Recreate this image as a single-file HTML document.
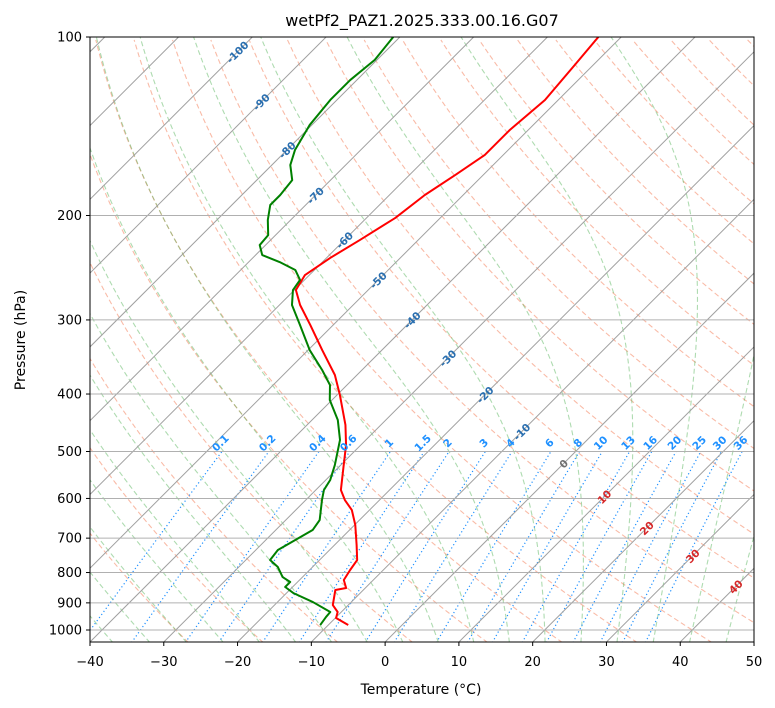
<!DOCTYPE html>
<html><head><meta charset="utf-8"><style>
html,body{margin:0;padding:0;background:#fff;}
svg{display:block;font-family:"DejaVu Sans","Liberation Sans",sans-serif;}
</style></head><body>
<svg id="chart" width="775" height="708" viewBox="0 0 775 708" xmlns="http://www.w3.org/2000/svg">
<defs><clipPath id="plotclip"><rect x="90" y="37" width="664" height="605"/></clipPath></defs>
<rect x="0" y="0" width="775" height="708" fill="#fff"/>
<text x="422" y="26" text-anchor="middle" font-size="16">wetPf2_PAZ1.2025.333.00.16.G07</text>
<g id="bg" clip-path="url(#plotclip)"></g>
<g id="series" clip-path="url(#plotclip)"></g>
<g id="labels"></g>
<rect x="90" y="37" width="664" height="605" fill="none" stroke="#000" stroke-width="1"/>
<g id="axes"></g>
<text x="421" y="694" text-anchor="middle" font-size="14">Temperature (°C)</text>
<text transform="translate(25,340) rotate(-90)" text-anchor="middle" font-size="14">Pressure (hPa)</text>
</svg>
<script>
const tempPressure = [100,111.5,127.7,143.5,158.1,170.9,184.7,201.9,219.9,235.8,252,267.1,283.1,306,337.2,371.5,401.6,451,487.5,537.3,580.6,603.7,627.6,665.2,719.1,762.1,792.2,823.6,849.6,856,907.6,932.5,954.5,980.9];
const tempValues = [-53.1,-52.5,-51.8,-52.5,-52.5,-53.8,-55.2,-56.1,-57.9,-59.5,-60.6,-59.8,-57.2,-53.1,-48.1,-43.0,-39.6,-34.8,-32,-29,-26.6,-24.7,-22.4,-19.9,-17,-14.9,-14.5,-14,-12.6,-13.8,-12.1,-10.5,-9.9,-7.3];
const dewPressure = [100,109.3,118.2,127.7,140.7,155.1,164.4,174.3,184.7,192,203.5,215.8,224.3,233.2,239.6,247.1,256.9,267.1,283.1,306,337.2,364.4,386.3,409.4,442.5,478.1,527,558.5,580.6,603.7,652.5,678.3,705.1,733.1,762.1,783.1,814.1,829.9,846.2,866.1,897.2,932.5,950.6,980.9];
const dewValues = [-80.9,-80.3,-80.9,-80.9,-80.3,-78.9,-77.5,-75.2,-74.8,-74.8,-73.1,-71.0,-70.8,-69.1,-65.8,-62.6,-60.6,-60.2,-58.3,-54.5,-49.8,-45.4,-42.3,-40.3,-36.5,-33.5,-30.8,-29.4,-28.9,-27.8,-25.4,-25.0,-26.0,-27.0,-26.7,-24.7,-22.7,-21.0,-21.0,-19.1,-15.2,-11.5,-11.4,-11.1];
const pressureTicks = [100,200,300,400,500,600,700,800,900,1000];
const tempTicks = [-40,-30,-20,-10,0,10,20,30,40,50];
const mixingRatios = [0.1,0.2,0.4,0.6,1,1.5,2,3,4,6,8,10,13,16,20,25,30,36];
const isothermLabels = [-100,-90,-80,-70,-60,-50,-40,-30,-20,-10,0,10,20,30,40];
const isothermLabelPressures = [106,128.7,155,185,220,257,300,348,401,463,524,596,673,750,845];

const NS="http://www.w3.org/2000/svg";
const PB=1050, PT=100;
function Y(p){return 37+593*Math.log10(p/100);}
function X(T,p){return 90+(T+40)*7.378+(642-Y(p));}
function el(tag,attrs,parent){const e=document.createElementNS(NS,tag);for(const k in attrs)e.setAttribute(k,attrs[k]);parent.appendChild(e);return e;}
const bg=document.getElementById('bg'), series=document.getElementById('series'), labels=document.getElementById('labels'), axes=document.getElementById('axes');
function pathFrom(pts){return pts.map((q,i)=>(i?'L':'M')+q[0].toFixed(2)+','+q[1].toFixed(2)).join('');}
const pgrid=[];for(let lp=Math.log(PB);lp>=Math.log(PT)-0.001;lp-=0.02)pgrid.push(Math.exp(lp));

for(let th=-30;th<=200;th+=10){
  const pts=pgrid.map(p=>[X((th+273.15)*Math.pow(p/1000,0.2857)-273.15,p),Y(p)]);
  const e=el('path',{d:pathFrom(pts),fill:'none',stroke:'#f4845f','stroke-opacity':'0.55','stroke-width':'1.1','stroke-dasharray':'5,3'},bg);
  
  
}
function esat(T){return 6.112*Math.exp(17.67*T/(T+243.5));}
function moistLapse(T,p){const Tk=T+273.15;const rs=0.622*esat(T)/(p-esat(T));const Rd=287,Lv=2.501e6,Cp=1005,eps=0.622;
  return (Rd*Tk+Lv*rs)/(p*(Cp+Lv*Lv*rs*eps/(Rd*Tk*Tk)));}
for(let t0=-40;t0<=45;t0+=5){
  const up=[];let T=t0,p=1000;up.push([T,p]);
  while(p>PT){const dp=-2;T+=moistLapse(T,p)*dp;p+=dp;up.push([T,p]);}
  const dn=[];T=t0;p=1000;while(p<PB){const dp=2;T+=moistLapse(T,p)*dp;p+=dp;dn.unshift([T,p]);}
  const pts=dn.concat(up).map(a=>[X(a[0],a[1]),Y(a[1])]);
  const e=el('path',{d:pathFrom(pts),fill:'none',stroke:'#4caf50','stroke-opacity':'0.45','stroke-width':'1.1','stroke-dasharray':'5,3'},bg);
  
  
}
mixingRatios.forEach(w=>{
  const pts=[];for(let p=PB;p>=500;p-=5){const e=w*p/(622+w);const l=Math.log(e/6.112);const Td=243.5*l/(17.67-l);pts.push([X(Td,p),Y(p)]);}
  const e=el('path',{d:pathFrom(pts),fill:'none',stroke:'#1e90ff','stroke-width':'1.2','stroke-dasharray':'1.2,2.6'},bg);
  
  
  const ee=w*500/(622+w);const l=Math.log(ee/6.112);const Td=243.5*l/(17.67-l);
  const lx=X(Td,500)+1, ly=Y(500)-6;
  const t=el('text',{x:lx,y:ly,'text-anchor':'middle','font-size':'10.5','font-weight':'bold',fill:'#1e90ff',transform:`rotate(-45 ${lx} ${ly})`},labels);
  t.textContent=String(w);
  
  
});
for(let T=-160;T<=50;T+=10){
  const e=el('line',{x1:X(T,PB),y1:Y(PB),x2:X(T,PT),y2:Y(PT),stroke:'#a0a0a0','stroke-width':'1'},bg);
  
  
}
pressureTicks.forEach(p=>{
  const e=el('line',{x1:90,x2:754,y1:Y(p),y2:Y(p),stroke:'#b0b0b0','stroke-width':'1'},bg);
  
  
});
isothermLabels.forEach((T,i)=>{
  const p=isothermLabelPressures[i];const lx=X(T,p),ly=Y(p);
  const col=T<0?'#2a6fb0':(T===0?'#707070':'#d62728');
  const t=el('text',{x:lx,y:ly+4,'text-anchor':'middle','font-size':'10.5','font-weight':'bold',fill:col,transform:`rotate(-45 ${lx} ${ly})`},labels);
  t.textContent=String(T);
  
  
});
const tp=el('path',{d:pathFrom(tempValues.map((T,i)=>[X(T,tempPressure[i]),Y(tempPressure[i])])),fill:'none',stroke:'#ff0000','stroke-width':'2','stroke-linejoin':'round'},series);


const dp=el('path',{d:pathFrom(dewValues.map((T,i)=>[X(T,dewPressure[i]),Y(dewPressure[i])])),fill:'none',stroke:'#008000','stroke-width':'2','stroke-linejoin':'round'},series);


pressureTicks.forEach(p=>{
  const y=Y(p);
  const l=el('line',{x1:86,x2:90,y1:y,y2:y,stroke:'#000'},axes);
  
  
  const t=el('text',{x:82,y:y+4.5,'text-anchor':'end','font-size':'13'},axes);
  t.textContent=String(p);
  
  
});
tempTicks.forEach(T=>{
  const x=90+(T+40)*7.378;
  const l=el('line',{x1:x,x2:x,y1:642,y2:646,stroke:'#000'},axes);
  
  
  const t=el('text',{x:x,y:666,'text-anchor':'middle','font-size':'13'},axes);
  t.textContent=(T<0?'\u2212'+Math.abs(T):String(T));
  
  
});
</script>
</body></html>
